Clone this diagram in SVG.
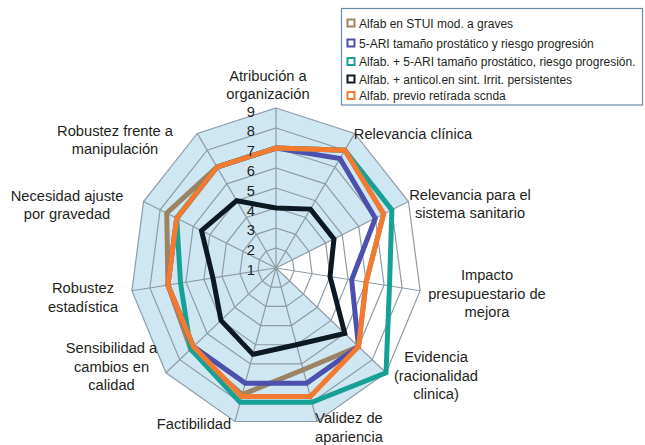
<svg xmlns="http://www.w3.org/2000/svg" width="645" height="445" viewBox="0 0 645 445">
<style>
.lbl{font-family:"Liberation Sans",Arial,sans-serif;font-size:14.7px;fill:#231f20;text-anchor:middle}
.num{font-family:"Liberation Sans",Arial,sans-serif;font-size:14.7px;fill:#231f20;text-anchor:end}
.leg{font-family:"Liberation Sans",Arial,sans-serif;font-size:12px;fill:#231f20}
.ring{fill:none;stroke:#8f9ca6;stroke-width:1.2}
.ser{fill:none;stroke-width:5;stroke-linejoin:miter;stroke-miterlimit:6}
.mk{fill:#fff;stroke-width:2}
</style>
<rect width="645" height="445" fill="#fff"/>
<g id="background">
<polygon points="276,108 354.72,133.39 408.43,201.54 276,268 386.03,372.78 317.01,421.52 234.99,421.52 165.97,372.78 131.89,290.77 143.57,201.54 197.28,133.39" fill="#cfe7f2"/>
</g>
<g id="grid">
<polygon class="ring" points="276,248 285.84,251.17 292.55,259.69 294.01,270.85 289.75,281.1 281.13,287.19 270.87,287.19 262.25,281.1 257.99,270.85 259.45,259.69 266.16,251.17"/>
<polygon class="ring" points="276,228 295.68,234.35 309.11,251.38 312.03,273.69 303.51,294.2 286.25,306.38 265.75,306.38 248.49,294.2 239.97,273.69 242.89,251.38 256.32,234.35"/>
<polygon class="ring" points="276,208 305.52,217.52 325.66,243.08 330.04,276.54 317.26,307.29 291.38,325.57 260.62,325.57 234.74,307.29 221.96,276.54 226.34,243.08 246.48,217.52"/>
<polygon class="ring" points="276,188 315.36,200.7 342.22,234.77 348.06,279.38 331.02,320.39 296.5,344.76 255.5,344.76 220.98,320.39 203.94,279.38 209.78,234.77 236.64,200.7"/>
<polygon class="ring" points="276,168 325.2,183.87 358.77,226.46 366.07,282.23 344.77,333.49 301.63,363.95 250.37,363.95 207.23,333.49 185.93,282.23 193.23,226.46 226.8,183.87"/>
<polygon class="ring" points="276,148 335.04,167.04 375.32,218.15 384.08,285.08 358.52,346.59 306.76,383.14 245.24,383.14 193.48,346.59 167.92,285.08 176.68,218.15 216.96,167.04"/>
<polygon class="ring" points="276,128 344.88,150.22 391.88,209.84 402.1,287.92 372.28,359.69 311.88,402.33 240.12,402.33 179.72,359.69 149.9,287.92 160.12,209.84 207.12,150.22"/>
<polygon class="ring" points="276,108 354.72,133.39 408.43,201.54 420.11,290.77 386.03,372.78 317.01,421.52 234.99,421.52 165.97,372.78 131.89,290.77 143.57,201.54 197.28,133.39"/>
<path class="ring" d="M276,268L276,108M276,268L354.72,133.39M276,268L408.43,201.54M276,268L420.11,290.77M276,268L386.03,372.78M276,268L317.01,421.52M276,268L234.99,421.52M276,268L165.97,372.78M276,268L131.89,290.77M276,268L143.57,201.54M276,268L197.28,133.39"/>
</g>
<g id="series">
<polygon id="s-brown" class="ser" stroke="#9b8464" points="276,148 344.88,150.22 383.6,214 366.07,282.23 358.52,346.59 303.17,369.71 242.17,394.65 190.73,349.21 167.92,285.08 166.74,213.17 216.96,167.04"/>
<polygon id="s-blue" class="ser" stroke="#4b4fae" points="276,148 339.96,158.63 375.32,218.15 351.66,279.95 358.52,346.59 306.76,383.14 245.24,383.14 193.48,346.59 167.92,285.08 176.68,218.15 216.96,167.04"/>
<polygon id="s-teal" class="ser" stroke="#16a096" points="276,148 344.88,150.22 391.88,209.84 389.49,285.93 386.03,372.78 311.88,402.33 240.12,402.33 190.73,349.21 180.53,283.08 176.68,218.15 216.96,167.04"/>
<polygon id="s-black" class="ser" stroke="#0c1822" points="276,208 310.44,209.11 333.94,238.92 330.04,276.54 344.77,333.49 296.5,344.76 252.93,354.36 220.98,320.39 212.95,277.96 201.51,230.61 236.64,200.7"/>
<polygon id="s-orange" class="ser" stroke="#f37a2e" stroke-width="5.5" points="276,148 344.88,150.22 383.6,214 366.07,282.23 358.52,346.59 310.34,396.57 241.66,396.57 193.48,346.59 167.92,285.08 176.68,218.15 216.96,167.04"/>
</g>
<g id="axis-numbers">
<text class="num" x="255" y="275">1</text>
<text class="num" x="255" y="255.2">2</text>
<text class="num" x="255" y="235.4">3</text>
<text class="num" x="255" y="215.6">4</text>
<text class="num" x="255" y="195.8">5</text>
<text class="num" x="255" y="176">6</text>
<text class="num" x="255" y="156.2">7</text>
<text class="num" x="255" y="136.4">8</text>
<text class="num" x="255" y="116.6">9</text>
</g>
<g id="axis-labels">
<text class="lbl" x="268" y="80.5">Atribución a</text>
<text class="lbl" x="268" y="99">organización</text>
<text class="lbl" x="413" y="138.5">Relevancia clínica</text>
<text class="lbl" x="470" y="199.5">Relevancia para el</text>
<text class="lbl" x="470" y="218">sistema sanitario</text>
<text class="lbl" x="487" y="280">Impacto</text>
<text class="lbl" x="487" y="298.5">presupuestario de</text>
<text class="lbl" x="487" y="317">mejora</text>
<text class="lbl" x="436" y="362">Evidencia</text>
<text class="lbl" x="436" y="380.5">(racionalidad</text>
<text class="lbl" x="436" y="399">clinica)</text>
<text class="lbl" x="349" y="423">Validez de</text>
<text class="lbl" x="349" y="441.5">apariencia</text>
<text class="lbl" x="194" y="429">Factibilidad</text>
<text class="lbl" x="111.5" y="353">Sensibilidad a</text>
<text class="lbl" x="111.5" y="371.5">cambios en</text>
<text class="lbl" x="111.5" y="390">calidad</text>
<text class="lbl" x="83" y="293">Robustez</text>
<text class="lbl" x="83" y="311.5">estadística</text>
<text class="lbl" x="67" y="200.5">Necesidad ajuste</text>
<text class="lbl" x="67" y="219">por gravedad</text>
<text class="lbl" x="115" y="135.5">Robustez frente a</text>
<text class="lbl" x="115" y="154">manipulación</text>
</g>
<g id="legend">
<rect x="341.5" y="8.5" width="301" height="96.5" fill="#fff" stroke="#6a8cab" stroke-width="1.2"/>
<rect class="mk" x="347.5" y="19.5" width="7" height="7" stroke="#9b8464"/>
<text class="leg" x="359" y="27.5">Alfab en STUI mod. a graves</text>
<rect class="mk" x="347.5" y="39.5" width="7" height="7" stroke="#4b4fae"/>
<text class="leg" x="359" y="47.5">5-ARI tamaño prostático y riesgo progresión</text>
<rect class="mk" x="347.5" y="58" width="7" height="7" stroke="#16a096"/>
<text class="leg" x="359" y="66">Alfab. + 5-ARI tamaño prostático, riesgo progresión.</text>
<rect class="mk" x="347.5" y="75.5" width="7" height="7" stroke="#0c1822"/>
<text class="leg" x="359" y="83.5">Alfab. + anticol.en sint. Irrit. persistentes</text>
<rect class="mk" x="347.5" y="92" width="7" height="7" stroke="#f37a2e"/>
<text class="leg" x="359" y="100">Alfab. previo retírada scnda</text>
</g>
</svg>
